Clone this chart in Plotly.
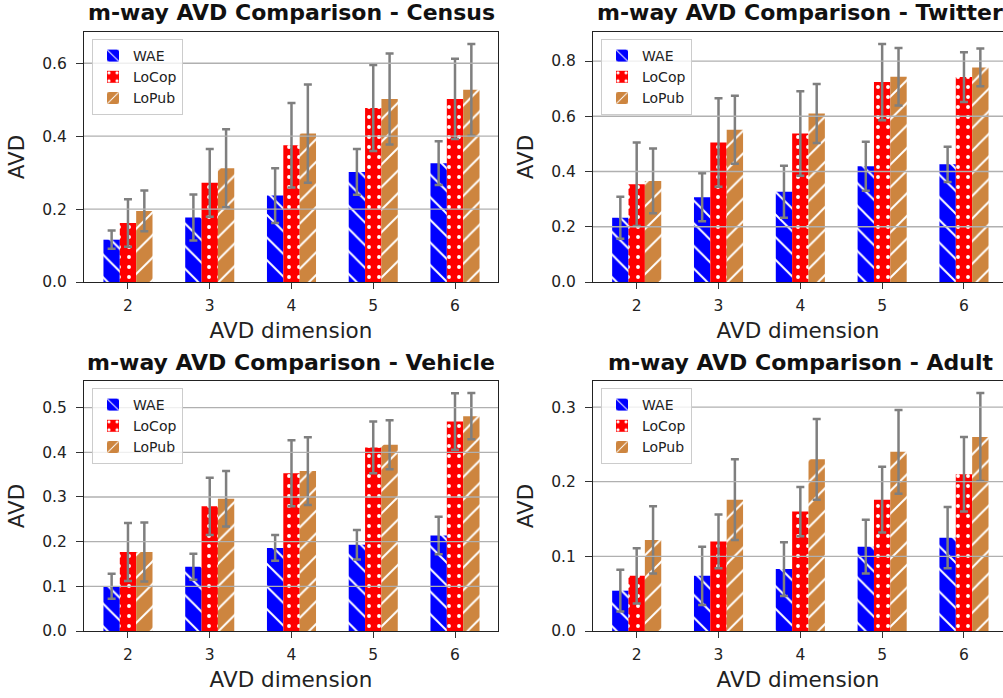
import plotly.graph_objects as go

dims = [2, 3, 4, 5, 6]
methods = ["WAE", "LoCop", "LoPub"]

# Census
census_wae = [0.116, 0.177, 0.237, 0.302, 0.326]
census_wae_err = [0.025, 0.063, 0.075, 0.063, 0.060]
census_locop = [0.162, 0.272, 0.375, 0.477, 0.502]
census_locop_err = [0.065, 0.093, 0.116, 0.118, 0.110]
census_lopub = [0.195, 0.312, 0.407, 0.502, 0.527]
census_lopub_err = [0.056, 0.107, 0.135, 0.125, 0.126]

# Twitter
twitter_wae = [0.233, 0.307, 0.327, 0.419, 0.426]
twitter_wae_err = [0.076, 0.087, 0.094, 0.089, 0.064]
twitter_locop = [0.354, 0.505, 0.538, 0.724, 0.742]
twitter_locop_err = [0.151, 0.160, 0.153, 0.138, 0.090]
twitter_lopub = [0.366, 0.551, 0.610, 0.743, 0.777]
twitter_lopub_err = [0.117, 0.123, 0.107, 0.104, 0.068]

# Vehicle
vehicle_wae = [0.100, 0.144, 0.186, 0.193, 0.214]
vehicle_wae_err = [0.028, 0.029, 0.029, 0.033, 0.042]
vehicle_locop = [0.177, 0.279, 0.353, 0.411, 0.469]
vehicle_locop_err = [0.065, 0.064, 0.074, 0.058, 0.063]
vehicle_lopub = [0.177, 0.296, 0.358, 0.417, 0.481]
vehicle_lopub_err = [0.066, 0.062, 0.076, 0.055, 0.052]

# Adult
adult_wae = [0.054, 0.074, 0.083, 0.113, 0.125]
adult_wae_err = [0.028, 0.039, 0.036, 0.036, 0.041]
adult_locop = [0.074, 0.120, 0.160, 0.176, 0.210]
adult_locop_err = [0.037, 0.036, 0.033, 0.044, 0.050]
adult_lopub = [0.122, 0.176, 0.230, 0.240, 0.260]
adult_lopub_err = [0.045, 0.054, 0.054, 0.056, 0.059]

panels = [
    ("Census", [census_wae, census_locop, census_lopub],
     [census_wae_err, census_locop_err, census_lopub_err], 0.2),
    ("Twitter", [twitter_wae, twitter_locop, twitter_lopub],
     [twitter_wae_err, twitter_locop_err, twitter_lopub_err], 0.2),
    ("Vehicle", [vehicle_wae, vehicle_locop, vehicle_lopub],
     [vehicle_wae_err, vehicle_locop_err, vehicle_lopub_err], 0.1),
    ("Adult", [adult_wae, adult_locop, adult_lopub],
     [adult_wae_err, adult_locop_err, adult_lopub_err], 0.1),
]

colors = ["#0000ff", "#ff0000", "#cd853f"]
patterns = [
    dict(shape="\\", fgcolor="white", bgcolor="#0000ff", size=16, solidity=0.12, fgopacity=1),
    dict(shape=".", fgcolor="white", bgcolor="#ff0000", size=10, solidity=0.12, fgopacity=1),
    dict(shape="/", fgcolor="white", bgcolor="#cd853f", size=16, solidity=0.12, fgopacity=1),
]

W, H = 1003, 698
FONT = "DejaVu Sans"
TXT = "#222222"

# pixel geometry of each plot area: (left, right, top, bottom)
left_col = (84, 498)
right_col = (593, 1003)
top_row = (32, 282)
bot_row = (381, 631)
geoms = [
    (left_col, top_row, [1.462, 6.526], True),
    (right_col, top_row, [1.466, 6.477], False),
    (left_col, bot_row, [1.462, 6.526], True),
    (right_col, bot_row, [1.466, 6.477], False),
]
title_centers = [(291, 13), (800, 13), (291, 362), (800, 362)]
legend_pos = [(92, 39), (601, 39), (92, 388), (601, 388)]

fig = go.Figure()
layout = dict(
    width=W, height=H,
    margin=dict(l=0, r=0, t=0, b=0),
    paper_bgcolor="white", plot_bgcolor="white",
    barmode="group", bargap=0.4, bargroupgap=0.0,
    font=dict(family=FONT, color=TXT),
    annotations=[], shapes=[],
)

for i, (name, vals, errs, dt) in enumerate(panels):
    k = "" if i == 0 else str(i + 1)
    xa, ya = "x" + k, "y" + k
    leg = "legend" + k
    for j, m in enumerate(methods):
        fig.add_trace(go.Bar(
            x=dims, y=vals[j], name=m,
            xaxis=xa, yaxis=ya, legend=leg, legendgroup=m + k,
            marker=dict(color=colors[j], line=dict(width=0), pattern=patterns[j]),
            error_y=dict(type="data", array=errs[j], visible=True,
                         color="#7f7f7f", thickness=2.5, width=4),
        ))
    (xl, xr), (yt, yb), xr_range, full = geoms[i]
    ymax = 1.05 * max(v + e for s, se in zip(vals, errs) for v, e in zip(s, se))
    layout["xaxis" + k] = dict(
        domain=[xl / W, xr / W], anchor=ya, range=xr_range,
        tickmode="array", tickvals=dims, ticktext=[str(d) for d in dims],
        ticks="outside", ticklen=6, tickcolor="#333", tickwidth=1,
        ticklabelstandoff=3,
        showline=True, linecolor="#222", linewidth=1, mirror=True,
        showgrid=False, zeroline=False, automargin=False,
        tickfont=dict(size=15.5, family=FONT, color=TXT),
        title=dict(text="AVD dimension", font=dict(size=21.5, family=FONT, color=TXT), standoff=9),
    )
    layout["yaxis" + k] = dict(
        domain=[1 - yb / H, 1 - yt / H], anchor=xa, range=[0, ymax],
        dtick=dt, tick0=0, tickformat=".1f",
        ticks="outside", ticklen=7, tickcolor="#333", tickwidth=1,
        ticklabelstandoff=6,
        showline=True, linecolor="#222", linewidth=1, mirror=full,
        showgrid=False, zeroline=False, automargin=False,
        tickfont=dict(size=15.5, family=FONT, color=TXT),
        title=dict(text="AVD", font=dict(size=21.5, family=FONT, color=TXT), standoff=11),
    )
    # horizontal grid lines drawn above bars (matplotlib style)
    t = 0.0
    while t <= ymax + 1e-9:
        if t > 1e-9:
            layout["shapes"].append(dict(
                type="line", xref=xa + " domain", yref=ya, x0=0, x1=1, y0=t, y1=t,
                line=dict(color="#b0b0b0", width=1.3), layer="above"))
        t = round(t + dt, 6)
    cx, cy = title_centers[i]
    layout["annotations"].append(dict(
        text="<b>m-way AVD Comparison - " + name + "</b>",
        x=cx / W, y=1 - cy / H, xref="paper", yref="paper",
        xanchor="center", yanchor="middle", showarrow=False,
        font=dict(size=22, family=FONT, color="#111"),
    ))
    lx, ly = legend_pos[i]
    layout[leg] = dict(
        x=lx / W, y=1 - ly / H, xanchor="left", yanchor="top",
        bgcolor="rgba(255,255,255,0.8)", bordercolor="#cccccc", borderwidth=1,
        font=dict(size=14, family=FONT, color=TXT), tracegroupgap=2,
        traceorder="normal",
    )

fig.update_layout(**layout)
fig.write_html("out.html")
